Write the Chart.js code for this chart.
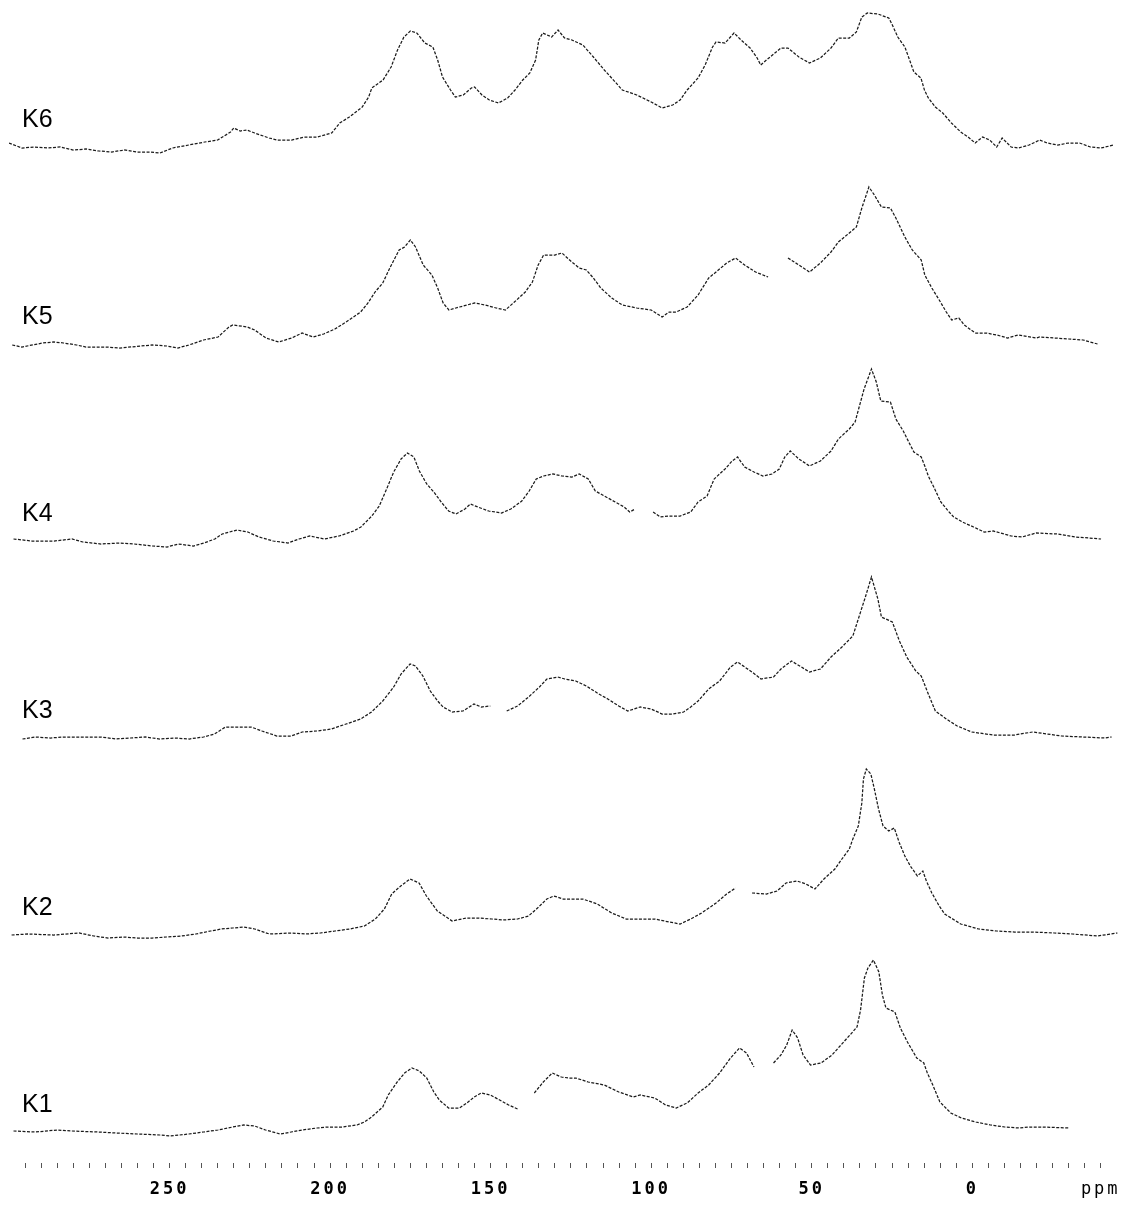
<!DOCTYPE html>
<html>
<head>
<meta charset="utf-8">
<script src="https://cdn.jsdelivr.net/npm/chart.js@4.4.1/dist/chart.umd.min.js"></script>
<style>
  html, body { margin: 0; padding: 0; background: #ffffff; }
  #wrap { position: relative; width: 1131px; height: 1205px; }
</style>
</head>
<body>
<div id="wrap"><canvas id="nmr"></canvas></div>
<script>
// 13C CPMAS NMR spectra of samples K1-K6; chemical shift (ppm) and intensity (a.u.).
// null marks a break in the recorded trace.
const shiftK1 = [298.6,291.8,285,280.4,272.4,266.7,260,253,249.7,244,
  239.4,234.9,230.3,226.9,223.5,220.1,215.5,212.1,208.7,204.1,
  200.7,196.2,191.6,189.3,187.1,183.6,181.9,179.1,176.8,174.5,
  172.2,169.9,167.7,166,163.1,159.7,157.4,155.1,152.9,150.1,
  147.2,144.4,141.6,139,136.4,133.6,130.8,128,125.7,123.5,
  119.6,114.6,110.1,105.6,103.4,98.9,95.5,92.2,88.8,85.4,
  82.1,78.7,75.3,72.5,70.3,68,65,61.9,59.6,57.8,
  56.1,54.4,52.7,50.4,47.1,43.7,40.9,38.1,35.9,34.8,
  33.6,32.5,30.8,29.1,28,26.9,24.1,22.4,20.2,17.3,
  15.1,14,12.3,10.1,6.7,3.4,-1.1,-5.6,-10.1,-14.6,
  -17.9,-21.3,-30.3];
const intensityK1 = [2,1,3,2,1,0,-1,-2,-3,-1,
  1,3,6,8,7,3,-1,1,3,5,
  6,6,8,11,16,26,38,51,60,65,
  62,55,41,33,25,25,30,36,40,38,
  33,28,24,null,40,51,60,56,55,55,
  51,48,41,36,38,35,28,25,30,40,
  48,60,75,85,80,66,null,70,78,88,
  103,95,78,68,70,78,88,98,106,123,
  155,165,173,161,138,125,121,105,91,75,
  70,60,48,31,20,15,11,8,6,5,
  6,6,5];

const shiftK2 = [299.2,294.1,286.1,278.2,273.6,269.1,264.5,260,255.4,250.9,
  246.3,241.8,237.2,233.8,230.3,226.9,223.5,218.9,212.1,207.5,
  203,198.5,193.9,189.3,185.9,183.1,180.8,178,175.1,172.3,
  170,166.6,162,157.5,154.1,149.6,146.2,141.6,138.2,135.4,
  132.5,130.3,127.4,124,121.3,116.8,112.3,107.8,103.4,98.9,
  94.4,91,87.7,84.3,79.8,76.5,73.7,71,68.6,64.1,
  60.8,58,54.6,51.8,49,46.2,42.8,40.6,38.3,37.2,
  35.5,34.4,33.9,33,31.6,30.5,29.2,27.8,26,24.3,
  22.7,21,19.3,17.1,15.4,14.3,12.6,10.3,8.6,3.6,
  -2,-7.6,-13.2,-18.8,-25.5,-31.2,-39,-45.2];
const intensityK2 = [1,2,1,3,0,-2,-1,-2,-2,-1,
  0,2,5,7,8,9,7,2,3,2,
  3,5,7,10,17,27,42,50,57,53,
  40,25,15,18,18,17,16,17,20,28,
  37,40,37,37,37,32,23,17,17,17,
  14,12,17,23,33,42,48,null,43,42,
  45,53,55,52,47,57,67,77,87,97,
  110,133,157,167,162,147,127,110,105,108,
  93,80,70,60,65,55,43,30,22,12,
  7,5,4,4,3,2,0,3];

const shiftK3 = [295.8,291.8,287.2,282.7,277,271.3,266.7,262.2,257.6,253,
  248.5,243.9,239.4,236,232.6,229.1,224.6,221.2,216.6,212.1,
  208.7,204.1,199.6,195,190.5,187.1,183.6,180.2,177.9,175.1,
  173.4,171.1,168.8,166.5,164.8,162,158.6,155.2,152.9,150.1,
  147.5,145,141.6,138.2,134.8,132.5,129.1,126.9,123.5,120.2,
  116.3,113.5,110.1,107.3,103.4,100,96.6,93.3,89.9,87.7,
  85.4,82.1,78.7,75.3,73.1,70.9,68.6,65.8,61.9,59.6,
  56.3,50.7,47.3,44,40.6,37.2,35,33.3,31.4,29.4,
  28.3,24.9,22.7,20.4,17.6,15.9,13.7,11.5,8.1,4.7,
  0.2,-6.5,-13.2,-18.8,-27.8,-41.2,-43.4];
const intensityK3 = [0,2,1,2,2,2,0,1,2,0,
  1,0,2,5,12,12,12,8,3,3,
  7,8,10,15,20,27,38,52,65,75,
  73,63,48,38,32,27,28,35,32,33,
  null,28,33,42,52,60,62,60,58,53,
  45,40,33,28,32,30,25,25,27,32,
  38,50,58,72,77,72,67,60,62,70,
  78,67,70,82,92,103,125,142,162,140,
  122,117,98,82,68,63,45,28,20,13,
  7,4,4,7,3,1,2];

const shiftK4 = [298.6,292.9,286,280.4,277,271.3,265.6,261,255.4,250.8,
  247.2,242.6,239.3,235.9,233.6,229,225.6,222.2,217.7,213.1,
  209.7,206.3,201.8,197.2,192.7,190.4,187,184.7,182.4,180.2,
  177.9,175.9,173.9,172.2,169.9,167.7,165.4,163.1,160.8,158,
  156.3,154,150.6,146.6,143.7,140.3,138,135.8,133.5,130.6,
  127.8,124.7,122.4,119.6,117.4,114.6,111.2,108.4,106.7,105,
  102,99.4,97.2,94.4,91,87.7,85.4,82.6,80.4,77,
  74.8,73.1,70.9,68,65.2,62.4,60.1,58.4,56.7,54,
  50.7,47.3,44,41.7,38.3,36.5,35.4,33.7,32.2,31.4,
  29.9,28.5,25.5,23.8,21.5,19.8,18.2,15.9,14.8,13.7,
  12,9.8,7.5,5.8,3.1,-0.4,-3.7,-6.5,-12.1,-15.5,
  -19.9,-26.6,-32.3,-40.1];
const intensityK4 = [3,1,1,3,0,-2,-1,-2,-4,-5,
  -2,-4,-1,3,8,12,10,5,1,-1,
  3,6,3,6,11,15,26,36,53,70,
  83,89,85,71,58,50,40,31,28,33,
  38,35,31,29,33,41,51,63,66,68,
  66,65,68,63,51,46,40,35,30,33,
  null,30,25,26,26,30,40,46,63,73,
  81,85,75,70,66,68,73,85,91,83,
  76,81,91,103,113,120,133,153,166,173,
  160,141,140,123,111,100,90,85,76,66,
  55,40,31,25,20,15,10,11,6,5,
  9,8,5,3];

const shiftK5 = [299,296,289.5,286,283,279,276,270,265.6,255.4,
  250.8,247.4,244,239.4,234.9,231.5,230.3,225.8,223.5,220,
  216,212,208.7,205.3,202,198.5,195,190.5,188.2,186,
  183.6,181.4,178.5,176.8,175,173.4,171,168.3,166.5,164.8,
  163,159.7,155,151.7,148.3,145.4,142.6,139.2,137,135.2,
  133.5,130,127.8,124.7,122.4,120.2,118,115.7,112.3,109,
  104.5,100,96.6,94.4,92.2,88.8,85.4,82.1,79.8,76.5,
  73.7,70.9,67.5,63.6,60.5,57.4,54,50.7,47.3,44,
  41.7,38.3,36.1,34.4,32.2,30.5,28.3,25.5,23.8,21,
  18.7,15.9,14.8,12.6,10.3,8.1,6.4,4.2,2.5,-0.9,
  -4.3,-7.6,-11,-14.3,-19.9,-21,-25.5,-30,-34.5,-39];
const intensityK5 = [0,-2,2,3,2,0,-2,-2,-3,0,
  -1,-3,0,5,8,18,20,18,15,7,
  3,7,12,8,11,16,23,33,42,53,
  62,77,95,98,105,98,80,70,57,42,
  35,38,42,40,37,35,43,53,63,80,
  90,90,92,83,77,75,67,57,47,40,
  37,35,28,33,33,38,50,67,73,82,
  87,80,73,68,null,87,80,73,82,93,
  103,112,118,137,158,150,138,137,127,108,
  95,85,70,57,45,33,25,27,20,12,
  12,10,7,10,7,8,7,6,5,1];

const shiftK6 = [300,296,292,288,284,280,276,272,268,264,
  260,256,253,249,244,239,235,231,230,228,
  226,223.5,219,216.5,212,208,204,199.5,197,194,
  190,188,187,183.5,181,179,177,175,173,170.5,
  168,166.5,165,162.5,161,158.5,156,155,152.7,150.4,
  147.6,144.7,142.4,140,137.8,136,135,133.8,131,129,
  127,124.7,121.3,118,114.6,111.2,109,104.5,100,96.6,
  93.3,91,88.8,85.4,83.2,80.9,79.8,77,74.2,72,
  69.2,67,65.9,64.1,59.6,57.4,54,50.7,47.3,44,
  41.7,38.3,36.1,34.4,32.7,29.4,26,24.9,23.2,21,
  19.3,18.2,16,14.9,13.7,11.5,9.2,6.5,3.6,1.3,
  -0.9,-3.2,-5.4,-7.6,-9.3,-12.1,-14.3,-17.7,-21,-23.3,
  -26.6,-30,-33.4,-36.8,-40.1,-44.1];
const intensityK6 = [5,0,1,0,1,-2,-1,-3,-4,-2,
  -4,-4,-5,0,3,6,8,16,20,17,
  18,15,10,8,8,11,11,15,25,31,
  41,51,60,68,81,98,111,117,115,105,
  101,88,71,58,51,53,60,61,53,48,
  45,50,58,68,75,88,108,115,111,118,
  110,108,103,91,78,66,58,53,46,40,
  43,48,58,70,83,101,106,105,115,108,
  100,90,83,88,100,100,91,85,90,100,
  110,110,116,131,135,134,130,123,111,101,
  86,76,70,58,50,41,35,25,16,11,
  5,11,8,1,10,1,0,3,8,5,
  3,5,5,1,0,3];

const sampleNames = ['K1', 'K2', 'K3', 'K4', 'K5', 'K6'];
const sampleShifts = [shiftK1, shiftK2, shiftK3, shiftK4, shiftK5, shiftK6];
const sampleIntensities = [intensityK1, intensityK2, intensityK3, intensityK4, intensityK5, intensityK6];

// Scale labels along the shift axis
const axisLabels = ['250', '200', '150', '100', '50', '0', 'ppm'];
const axisLabelShifts = [250, 200, 150, 100, 50, 0, -40];
const unitShift = -40;

// Stacked-plot layout: each spectrum sits on its own raised baseline
const stackBase = 30;
const stackStep = 197;
const labelLift = 28;

const baselineOf = i => stackBase + stackStep * i;

const datasets = sampleNames.map((name, i) => ({
  label: name,
  data: sampleShifts[i].map((s, j) => ({
    x: s,
    y: sampleIntensities[i][j] === null ? null : baselineOf(i) + sampleIntensities[i][j]
  })),
  borderColor: '#1a1a1a',
  borderWidth: 1.25,
  borderDash: [3, 1.5],
  pointRadius: 0,
  tension: 0,
  spanGaps: false,
  fill: false
}));

// minor ticks every 5 ppm across the scale
const tickShifts = [];
for (let v = 295; v >= -40; v -= 5) tickShifts.push(v);

const spacedTicks = {
  id: 'spacedTicks',
  beforeDraw(chart) { chart.ctx.letterSpacing = '3px'; },
  beforeDatasetsDraw(chart) { chart.ctx.letterSpacing = '0px'; }
};

const sampleTags = {
  id: 'sampleTags',
  afterDatasetsDraw(chart) {
    const { ctx, scales: { x, y } } = chart;
    ctx.save();
    ctx.letterSpacing = '0px';
    ctx.font = '25px "Liberation Sans", Arial, sans-serif';
    ctx.fillStyle = '#000';
    ctx.textAlign = 'left';
    ctx.textBaseline = 'middle';
    sampleNames.forEach((name, i) => {
      ctx.fillText(name, x.left + 13, y.getPixelForValue(baselineOf(i) + labelLift));
    });
    ctx.restore();
  }
};

new Chart(document.getElementById('nmr'), {
  type: 'line',
  data: { datasets },
  plugins: [spacedTicks, sampleTags],
  options: {
    responsive: true,
    maintainAspectRatio: false,
    animation: false,
    layout: { padding: { left: 9, right: 11, top: 0, bottom: 0 } },
    plugins: { legend: { display: false }, tooltip: { enabled: false } },
    scales: {
      x: {
        type: 'linear',
        reverse: true,
        min: -46,
        max: 300,
        afterBuildTicks: scale => { scale.ticks = tickShifts.map(v => ({ value: v })); },
        afterFit: scale => { scale.height = 42; },
        border: { display: false },
        grid: { drawOnChartArea: false, drawTicks: true, tickLength: 5, tickColor: '#555', tickWidth: 1 },
        ticks: {
          autoSkip: false,
          maxRotation: 0,
          padding: 11,
          color: '#000',
          font: c => (c.tick && c.tick.value === unitShift)
            ? { family: '"DejaVu Sans Mono", monospace', size: 17, weight: 'normal' }
            : { family: '"DejaVu Sans Mono", monospace', size: 17, weight: 'bold' },
          callback: v => {
            const k = axisLabelShifts.indexOf(v);
            return k >= 0 ? axisLabels[k] : '';
          }
        }
      },
      y: { display: false, min: 0, max: 1163 }
    }
  }
});
</script>
</body>
</html>
